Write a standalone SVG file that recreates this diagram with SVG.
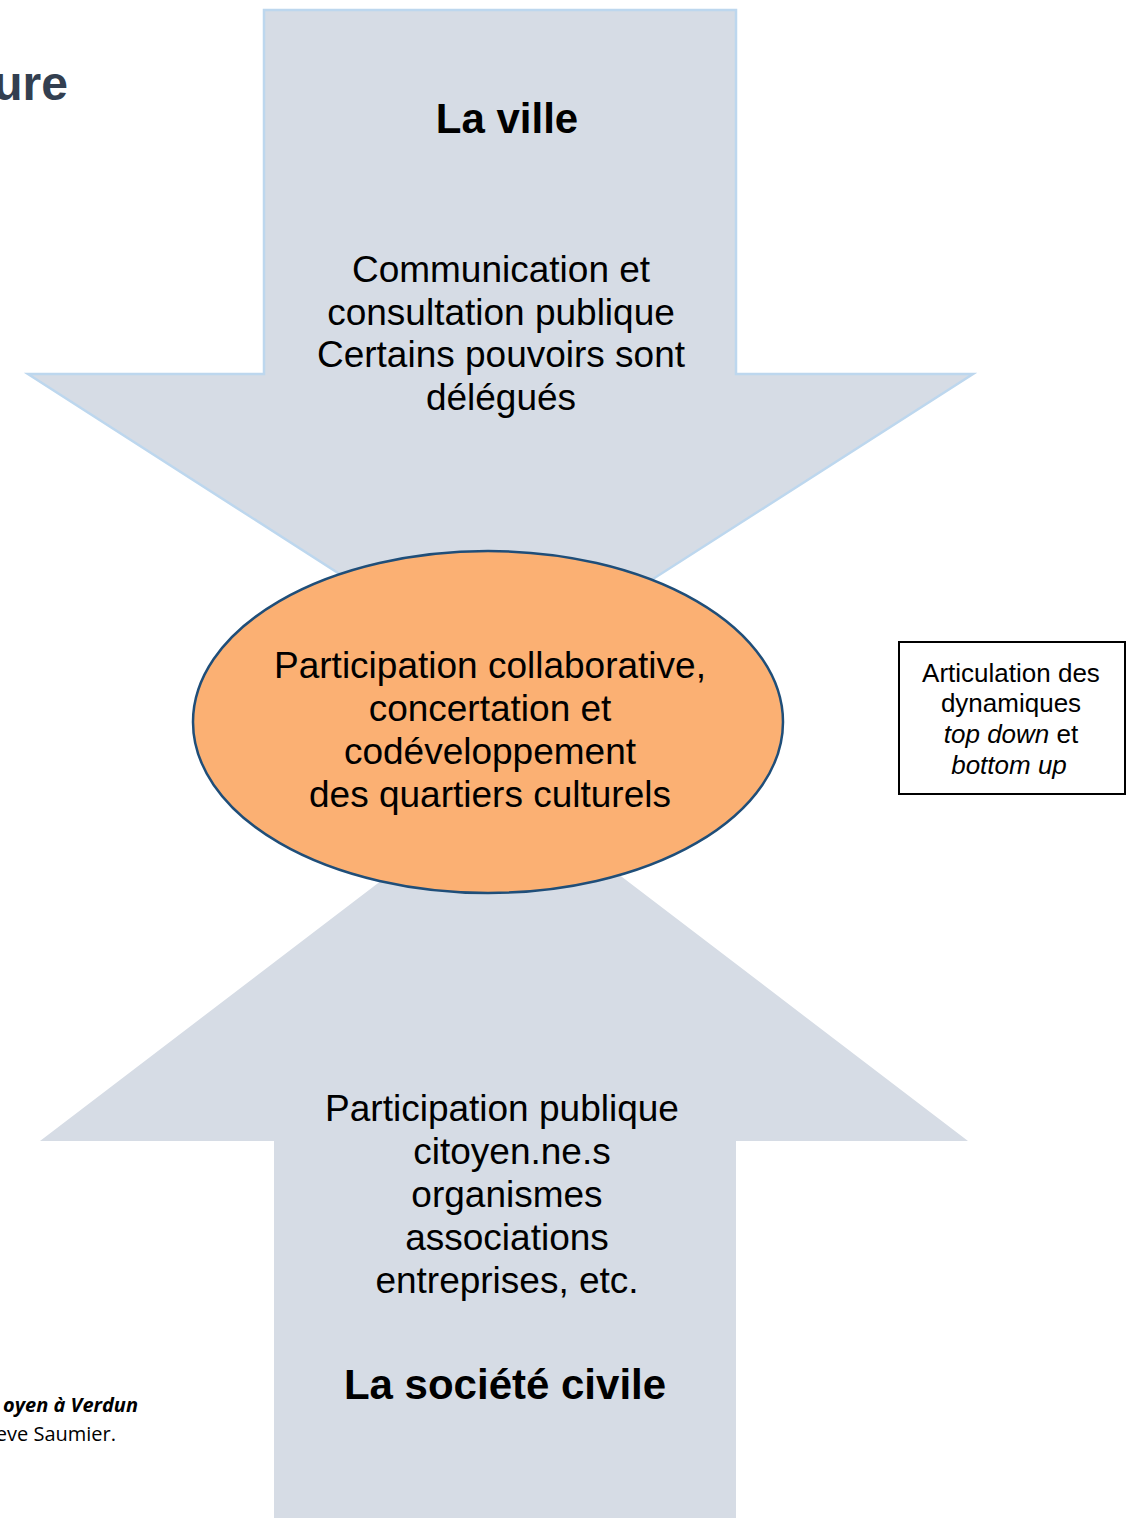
<svg xmlns="http://www.w3.org/2000/svg" width="1135" height="1518" viewBox="0 0 1135 1518">
<style>
.t{font-family:"Liberation Sans",Arial,sans-serif;fill:#000;text-anchor:middle}
.big{font-size:37px}
.head{font-size:42px;font-weight:bold}
.small{font-size:26px}
</style>
<rect width="1135" height="1518" fill="#fff"/>
<g id="title-fragment">
<text x="68" y="100" font-family="'Liberation Sans',Arial,sans-serif" font-size="48" font-weight="bold" fill="#333f50" text-anchor="end">ure</text>
</g>
<g id="source-fragment" font-family="'Open Sans','Liberation Sans',sans-serif" font-size="20" text-anchor="end" fill="#000">
<text x="138" y="1412" font-weight="bold" font-style="italic">oyen à Verdun</text>
<text x="116" y="1441">eve Saumier.</text>
</g>
<g id="arrow-down">
<polygon points="264,10 736,10 736,374 973,374 500,677 28,374 264,374" fill="#d6dce5" stroke="#bdd7ee" stroke-width="2.5" stroke-linejoin="miter"/>
<text class="t head" x="507" y="133">La ville</text>
<text class="t big" x="501" y="282">Communication et</text>
<text class="t big" x="501" y="325">consultation publique</text>
<text class="t big" x="501" y="367">Certains pouvoirs sont</text>
<text class="t big" x="501" y="410">délégués</text>
</g>
<g id="arrow-up">
<polygon points="274,1518 736,1518 736,1141 968,1141 504,787 40,1141 274,1141" fill="#d6dce5"/>
<text class="t big" x="502" y="1121">Participation publique</text>
<text class="t big" x="512" y="1164">citoyen.ne.s</text>
<text class="t big" x="507" y="1207">organismes</text>
<text class="t big" x="507" y="1250">associations</text>
<text class="t big" x="507" y="1293">entreprises, etc.</text>
<text class="t head" x="505" y="1399">La société civile</text>
</g>
<g id="center">
<ellipse cx="488" cy="722" rx="295" ry="171" fill="#fbb073" stroke="#1f4e79" stroke-width="2.5"/>
<text class="t big" x="490" y="678">Participation collaborative,</text>
<text class="t big" x="490" y="721">concertation et</text>
<text class="t big" x="490" y="764">codéveloppement</text>
<text class="t big" x="490" y="807">des quartiers culturels</text>
</g>
<g id="note">
<rect x="899" y="642" width="226" height="152" fill="#fff" stroke="#000" stroke-width="2"/>
<text class="t small" x="1011" y="682">Articulation des</text>
<text class="t small" x="1011" y="712">dynamiques</text>
<text class="t small" x="1011" y="743"><tspan font-style="italic">top down</tspan> et</text>
<text class="t small" x="1009" y="774" font-style="italic">bottom up</text>
</g>
</svg>
